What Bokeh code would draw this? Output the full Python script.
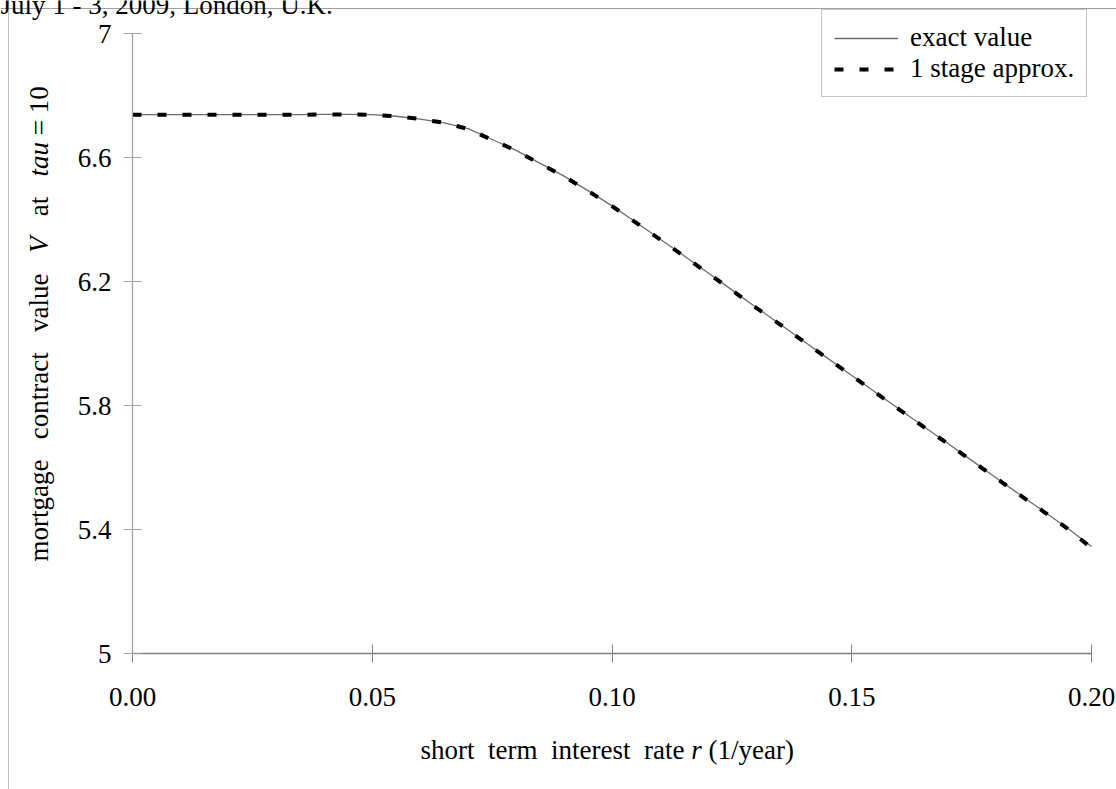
import math
from bokeh.plotting import figure
from bokeh.models import FixedTicker, Label, Legend, LegendItem, Range1d, Span
from bokeh.embed import file_html
from bokeh.resources import INLINE

# ---- data ----
rate = [0.000, 0.005, 0.010, 0.015, 0.020, 0.025, 0.030, 0.035, 0.040, 0.045,
        0.050, 0.055, 0.060, 0.065, 0.070, 0.075, 0.080, 0.085, 0.090, 0.095,
        0.100, 0.105, 0.110, 0.115, 0.120, 0.125, 0.130, 0.135, 0.140, 0.145,
        0.150, 0.155, 0.160, 0.165, 0.170, 0.175, 0.180, 0.185, 0.190, 0.195,
        0.200]
exact_value = [6.738, 6.738, 6.738, 6.738, 6.738, 6.738, 6.738, 6.738, 6.739, 6.739,
               6.738, 6.733, 6.724, 6.712, 6.693, 6.658, 6.623, 6.581, 6.540, 6.493,
               6.444, 6.391, 6.337, 6.283, 6.228, 6.173, 6.117, 6.063, 6.007, 5.952,
               5.897, 5.842, 5.787, 5.732, 5.678, 5.623, 5.568, 5.513, 5.459, 5.404,
               5.345]
approx_value = [6.738, 6.738, 6.738, 6.738, 6.738, 6.738, 6.738, 6.738, 6.739, 6.739,
                6.738, 6.733, 6.724, 6.712, 6.692, 6.657, 6.622, 6.580, 6.539, 6.492,
                6.443, 6.390, 6.336, 6.282, 6.227, 6.172, 6.116, 6.062, 6.006, 5.951,
                5.896, 5.841, 5.786, 5.731, 5.677, 5.622, 5.567, 5.512, 5.458, 5.403,
                5.340]
series_names = ["exact value", "1 stage approx."]
x_ticks = [0.0, 0.05, 0.10, 0.15, 0.20]
x_tick_labels = ["0.00", "0.05", "0.10", "0.15", "0.20"]
y_ticks = [5.0, 5.4, 5.8, 6.2, 6.6, 7.0]
y_tick_labels = ["5", "5.4", "5.8", "6.2", "6.6", "7"]
header_text = "July 1 - 3, 2009, London, U.K."
# axis titles split in words (word, style, position along the text in page px)
x_title_words = [("short", "normal", 420.0), ("term", "normal", 487.5),
                 ("interest", "normal", 550.5), ("rate", "normal", 643.5),
                 ("r", "italic", 690.8), ("(1/year)", "normal", 708.0)]
y_title_words = [("mortgage", "normal", 561.0), ("contract", "normal", 438.7),
                 ("value", "normal", 331.4), ("V", "italic", 252.6),
                 ("at", "normal", 215.8), ("tau", "italic", 176.0),
                 ("=", "normal", 134.8), ("10", "normal", 112.8)]

FONT = "Liberation Serif"
FS = "27px"
W, H = 1116, 789
BASE_FIX = 8  # Bokeh places the alphabetic baseline this much lower

# plot area occupies page x 132..1091, y 33..653; frame covers the whole canvas
px_per_x = (1091 - 132) / (x_ticks[-1] - x_ticks[0])
px_per_y = (653 - 33) / (y_ticks[-1] - y_ticks[0])
x_range = Range1d(x_ticks[0] - 132 / px_per_x, x_ticks[-1] + (W - 1091) / px_per_x)
y_range = Range1d(y_ticks[0] - (H - 653) / px_per_y, y_ticks[-1] + 33 / px_per_y)

p = figure(width=W, height=H, output_backend="svg", toolbar_location=None,
           x_range=x_range, y_range=y_range,
           min_border_left=0, min_border_right=0, min_border_top=0,
           min_border_bottom=0)
p.grid.visible = False
p.outline_line_color = None
p.background_fill_color = "white"
p.border_fill_color = "white"

for ax, col in ((p.xaxis[0], "#808080"), (p.yaxis[0], "#a6a6a6")):
    ax.axis_line_color = col
    ax.axis_line_width = 1.3
    ax.major_tick_line_color = col
    ax.major_tick_in = 9
    ax.major_tick_out = 9
    ax.minor_tick_line_color = None
    ax.major_label_text_font = FONT
    ax.major_label_text_font_size = FS
    ax.major_label_text_color = "black"
    ax.axis_label = None

p.xaxis[0].ticker = FixedTicker(ticks=x_ticks)
p.xaxis[0].major_label_overrides = {t: s for t, s in zip(x_ticks, x_tick_labels)}
p.xaxis[0].major_label_standoff = 25
p.xaxis[0].fixed_location = y_ticks[0]
p.xaxis[0].bounds = (x_ticks[0], x_ticks[-1])
p.yaxis[0].ticker = FixedTicker(ticks=y_ticks)
p.yaxis[0].major_label_overrides = {(int(t) if t == int(t) else t): s
                                   for t, s in zip(y_ticks, y_tick_labels)}
p.yaxis[0].major_label_standoff = 12
p.yaxis[0].fixed_location = x_ticks[0]
p.yaxis[0].bounds = (y_ticks[0], y_ticks[-1])

# page border lines of the cropped source page
p.add_layout(Span(location=8, location_units="screen", dimension="height",
                  line_color="#c0c0c0", line_width=1))
p.add_layout(Span(location=H - 8, location_units="screen", dimension="width",
                  line_color="#a0a0a0", line_width=1.2))

r_exact = p.line(rate, exact_value, line_color="#6e6e6e", line_width=1.3)
r_approx = p.line(rate, approx_value, line_color="black", line_width=4,
                  line_dash="9 16")

legend = Legend(items=[LegendItem(label=series_names[0], renderers=[r_exact]),
                       LegendItem(label=series_names[1], renderers=[r_approx])],
                location=(821, H - 97), orientation="vertical")
legend.label_text_font = FONT
legend.label_text_font_size = FS
legend.label_text_color = "black"
legend.glyph_width = 64
legend.glyph_height = 26
legend.label_height = 26
legend.label_standoff = 12
legend.padding = 12
legend.spacing = -4
legend.margin = 0
legend.border_line_color = "#8c8c8c"
legend.border_line_width = 1
legend.background_fill_color = "white"
legend.background_fill_alpha = 1.0
p.add_layout(legend, "center")

# header text (clipped at the top, as in the page it was cut from)
p.add_layout(Label(x=0, y=H - 12 + BASE_FIX, x_units="screen", y_units="screen",
                   text=header_text, text_font=FONT, text_font_size=FS,
                   text_color="black",
                   text_baseline="alphabetic", text_align="left"))

# x axis title, word by word (italic r)
for txt, style, xo in x_title_words:
    p.add_layout(Label(x=xo, y=H - 757 + BASE_FIX, x_units="screen", y_units="screen",
                       text=txt, text_font=FONT, text_font_size=FS,
                       text_font_style=style, text_color="black",
                       text_baseline="alphabetic", text_align="left"))

# y axis title, word by word (italic V and tau), rotated
for txt, style, yo in y_title_words:
    p.add_layout(Label(x=46 - BASE_FIX, y=H - yo, x_units="screen", y_units="screen",
                       text=txt, text_font=FONT, text_font_size=FS,
                       text_font_style=style, text_color="black",
                       text_baseline="alphabetic", text_align="left",
                       angle=math.pi / 2))

open("out.html", "w").write(file_html(p, INLINE))
